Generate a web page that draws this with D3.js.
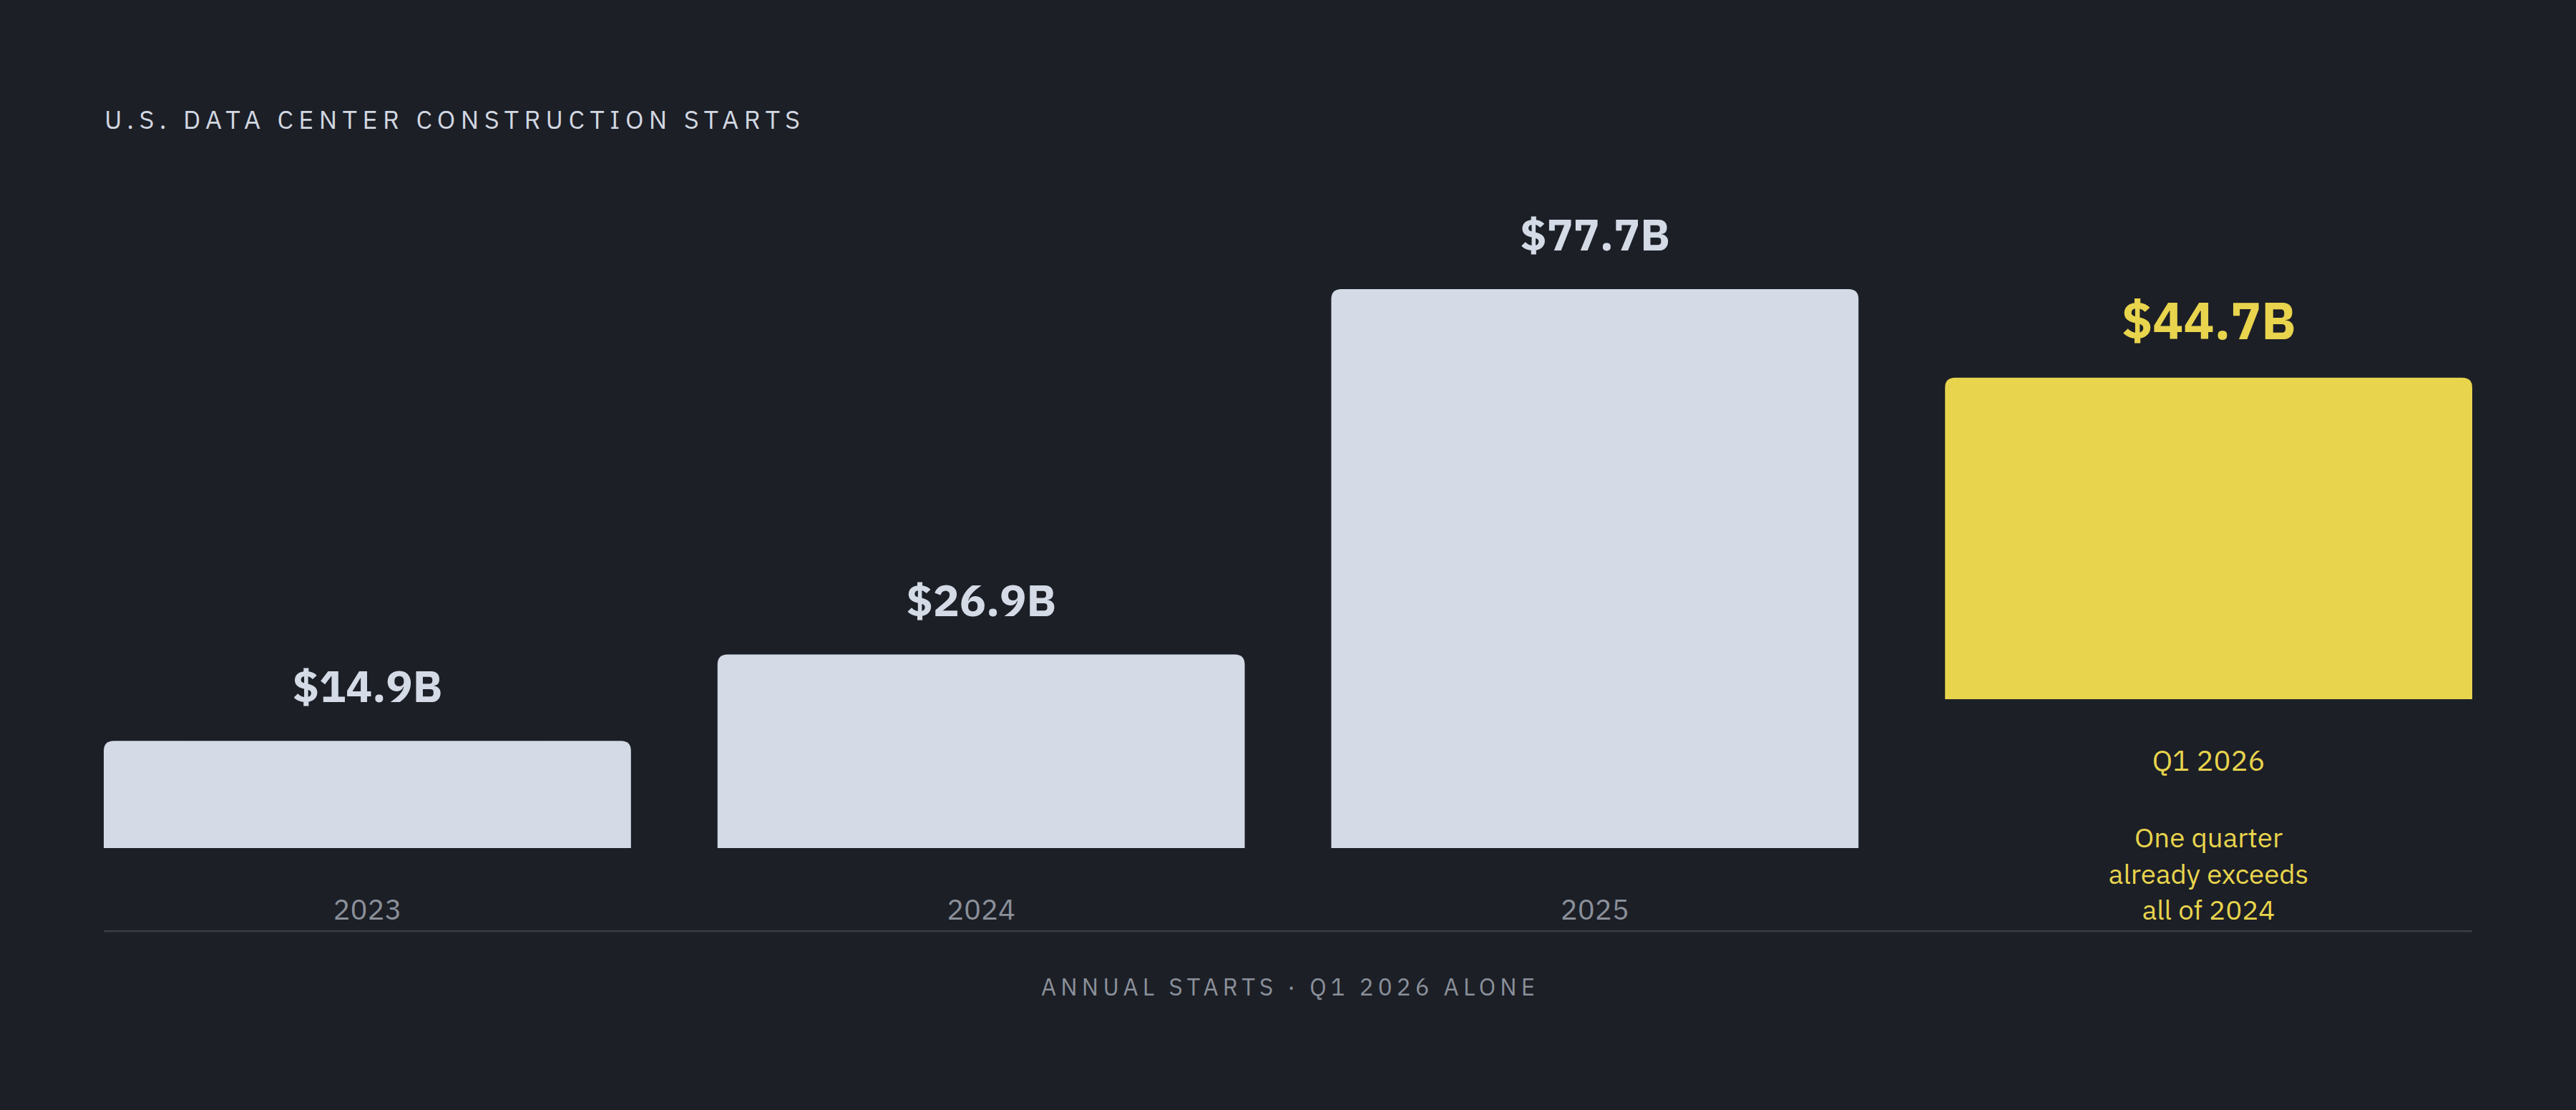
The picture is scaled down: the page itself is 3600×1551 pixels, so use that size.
<!DOCTYPE html>
<html>
<head>
<meta charset="utf-8">
<script src="https://cdn.jsdelivr.net/npm/d3@7"></script>
<style>
  html, body { margin: 0; padding: 0; background: #1c1f26; }
  svg { display: block; }
  text { font-family: "IBM Plex Sans", Inter, "Noto Sans", sans-serif; }
</style>
</head>
<body>
<div id="chart"></div>
<script>
// Data
const periods = ['2023', '2024', '2025', 'Q1 2026'];
const values = [14.9, 26.9, 77.7, 44.7];
const highlight = 'Q1 2026';
const noteLines = ['One quarter', 'already exceeds', 'all of 2024'];
const title = 'U.S. DATA CENTER CONSTRUCTION STARTS';
const caption = 'ANNUAL STARTS \u00b7 Q1 2026 ALONE';

const width = 3600;
const height = 1551;
const margin = { left: 145, right: 145 };
const baseline = 1185;        // bottom of the annual bars
const highlightLift = 208;    // the Q1 bar sits above its label block
const radius = 14;

const colors = {
    bg: '#1c1f26',
    bar: '#d4dbe6',
    accent: '#e8d44d',
    muted: '#8b909a',
    rule: '#3a3e47',
    title: '#d2d7e1'
};

const svg = d3.create('svg')
    .attr('width', width)
    .attr('height', height)
    .attr('viewBox', [0, 0, width, height]);

svg.append('rect')
    .attr('width', width)
    .attr('height', height)
    .attr('fill', colors.bg);

const x = d3.scaleBand()
    .domain(periods)
    .range([margin.left, width - margin.right])
    .paddingInner(0.141)
    .paddingOuter(0);

const y = d3.scaleLinear()
    .domain([0, 77.7])
    .range([0, 781]);

const data = periods.map((p, i) => ({ period: p, value: values[i], hi: p === highlight }));
const bottomOf = d => d.hi ? baseline - highlightLift : baseline;

// bar with rounded top corners only
function barPath(d) {
    const x0 = x(d.period), x1 = x0 + x.bandwidth();
    const yb = bottomOf(d), yt = yb - y(d.value);
    const r = Math.min(radius, (yb - yt) / 2);
    return `M${x0},${yb}V${yt + r}Q${x0},${yt} ${x0 + r},${yt}H${x1 - r}Q${x1},${yt} ${x1},${yt + r}V${yb}Z`;
}

// Title
svg.append('text')
    .attr('x', 146)
    .attr('y', 180)
    .attr('textLength', 972)
    .attr('lengthAdjust', 'spacing')
    .style('font-size', '36px')
    .style('fill', colors.title)
    .text(title);

// Bars
svg.append('g')
    .selectAll('path')
    .data(data)
    .join('path')
    .attr('d', barPath)
    .attr('fill', d => d.hi ? colors.accent : colors.bar);

// Value labels
svg.append('g')
    .selectAll('text')
    .data(data)
    .join('text')
    .attr('x', d => x(d.period) + x.bandwidth() / 2)
    .attr('y', d => bottomOf(d) - y(d.value) - 54)
    .attr('text-anchor', 'middle')
    .style('font-size', d => d.hi ? '72px' : '62px')
    .style('font-weight', 700)
    .style('fill', d => d.hi ? colors.accent : colors.bar)
    .text(d => `$${d.value.toFixed(1)}B`);

// Period labels
svg.append('g')
    .selectAll('text')
    .data(data)
    .join('text')
    .attr('x', d => x(d.period) + x.bandwidth() / 2)
    .attr('y', d => bottomOf(d) + 100)
    .attr('text-anchor', 'middle')
    .style('font-size', '40px')
    .style('fill', d => d.hi ? colors.accent : colors.muted)
    .text(d => d.period);

// Note under the highlighted bar
const hiX = x(highlight) + x.bandwidth() / 2;
svg.append('text')
    .attr('text-anchor', 'middle')
    .style('font-size', '38.5px')
    .style('fill', colors.accent)
    .selectAll('tspan')
    .data(noteLines)
    .join('tspan')
    .attr('x', hiX)
    .attr('y', (d, i) => 1184 + i * 50.5)
    .text(d => d);

// Axis rule
svg.append('line')
    .attr('x1', margin.left)
    .attr('x2', width - margin.right)
    .attr('y1', 1301)
    .attr('y2', 1301)
    .attr('stroke', colors.rule)
    .attr('stroke-width', 2.5);

// Caption
svg.append('text')
    .attr('x', (margin.left + width - margin.right) / 2)
    .attr('y', 1391)
    .attr('text-anchor', 'middle')
    .attr('textLength', 690)
    .attr('lengthAdjust', 'spacing')
    .style('font-size', '33px')
    .style('fill', colors.muted)
    .text(caption);

document.getElementById('chart').appendChild(svg.node());
</script>
</body>
</html>
